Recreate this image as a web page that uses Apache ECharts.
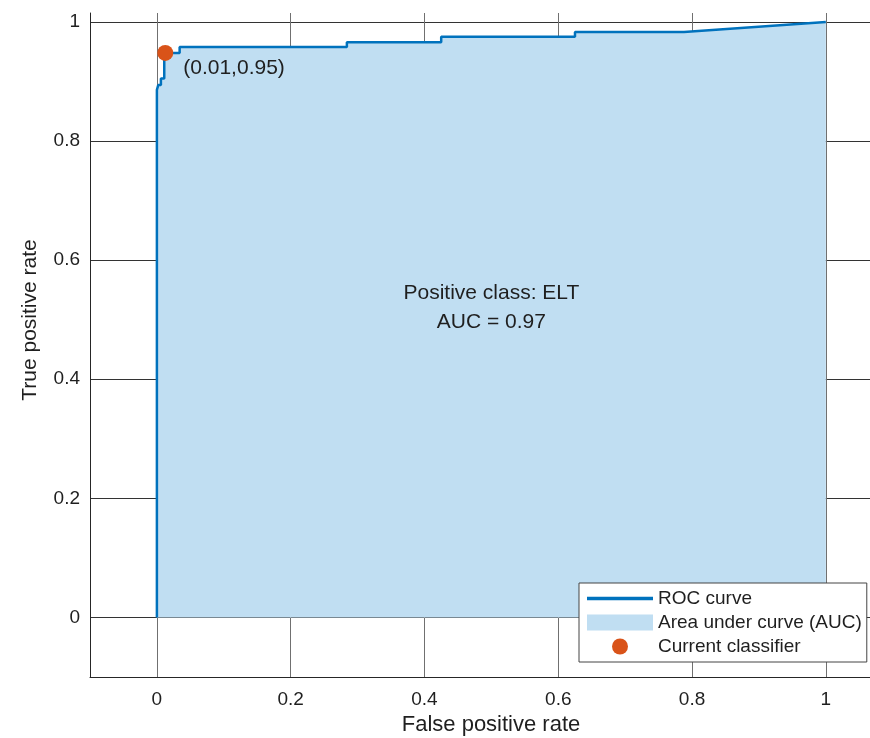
<!DOCTYPE html>
<html>
<head>
<meta charset="utf-8">
<script src="https://cdn.jsdelivr.net/npm/echarts@6/dist/echarts.min.js"></script>
<style>
html,body{margin:0;padding:0;background:#fff;}
#chart{width:870px;height:738px;}
</style>
</head>
<body>
<div id="chart"></div>
<script>
// ROC curve points (false positive rate, true positive rate)
const fpr = [0, 0, 0.002, 0.002, 0.006, 0.006, 0.011, 0.011, 0.034, 0.034, 0.284, 0.284, 0.425, 0.425, 0.625, 0.625, 0.788, 1.0];
const tpr = [0, 0.886, 0.886, 0.894, 0.894, 0.905, 0.905, 0.948, 0.948, 0.958, 0.958, 0.966, 0.966, 0.975, 0.975, 0.983, 0.983, 1.0];
// Current classifier operating point
const classifierPoint = [0.0125, 0.948];
const classifierLabel = '(0.01,0.95)';
// Annotation
const annotationPos = [0.5, 0.52];
const annotationText = 'Positive class: ELT\nAUC = 0.97';
// Ticks
const xTicks = [0, 0.2, 0.4, 0.6, 0.8, 1];
const yTicks = [0, 0.2, 0.4, 0.6, 0.8, 1];
// Names
const seriesNames = ['ROC curve', 'Area under curve (AUC)', 'Current classifier'];
const xName = 'False positive rate';
const yName = 'True positive rate';

const FONT = "'Liberation Sans', Arial, Helvetica, sans-serif";
const TXT = '#1f1f1f';

const rocData = fpr.map((x, i) => [x, tpr[i]]);

const chart = echarts.init(document.getElementById('chart'), null, {renderer: 'canvas'});
chart.setOption({
  animation: false,
  backgroundColor: '#fff',
  textStyle: {fontFamily: FONT},
  grid: {left: 90, top: 13, width: 780, height: 664, containLabel: false},
  xAxis: {
    type: 'value', min: -0.1, max: 1.066,
    axisLine: {show: true, onZero: false, lineStyle: {color: '#262626', width: 1}},
    axisTick: {show: false, customValues: xTicks},
    axisLabel: {customValues: xTicks, color: TXT, fontSize: 19, fontFamily: FONT, margin: 13},
    splitLine: {show: true, lineStyle: {color: '#707070', width: 1}}
  },
  yAxis: {
    type: 'value', min: -0.1, max: 1.015,
    axisLine: {show: true, onZero: false, lineStyle: {color: '#262626', width: 1}},
    axisTick: {show: false, customValues: yTicks},
    axisLabel: {customValues: yTicks, color: TXT, fontSize: 19, fontFamily: FONT, margin: 10},
    splitLine: {show: true, lineStyle: {color: '#333333', width: 1}}
  },
  legend: {
    orient: 'vertical', left: 579, top: 583,
    data: [
      {name: seriesNames[0], icon: 'path://M0,0H66V3.5H0Z'},
      {name: seriesNames[1], icon: 'rect'},
      {name: seriesNames[2], icon: 'circle'}
    ],
    itemWidth: 66, itemHeight: 16, itemGap: 5,
    padding: [6, 5, 6, 8],
    symbolKeepAspect: true,
    selectedMode: false,
    backgroundColor: '#fff', borderColor: '#444', borderWidth: 1, borderRadius: 0,
    textStyle: {color: TXT, fontSize: 19, fontFamily: FONT}
  },
  graphic: [
    {type: 'text', x: 491, y: 725, style: {text: xName, font: "22px 'Liberation Sans', Arial, sans-serif", fill: TXT, textAlign: 'center', textVerticalAlign: 'middle'}},
    {type: 'text', x: 30, y: 320, rotation: Math.PI / 2, style: {text: yName, font: "21px 'Liberation Sans', Arial, sans-serif", fill: TXT, textAlign: 'center', textVerticalAlign: 'middle'}}
  ],
  series: [
    {
      name: seriesNames[1], type: 'line', data: rocData, symbol: 'none', color: '#C0DEF2',
      lineStyle: {width: 0, opacity: 0},
      areaStyle: {color: '#C0DEF2', opacity: 1},
      z: 1, silent: true
    },
    {
      name: seriesNames[0], type: 'line', data: rocData, symbol: 'none', color: '#0072BD',
      lineStyle: {width: 2.5, color: '#0072BD'},
      z: 3, silent: true
    },
    {
      name: seriesNames[2], type: 'scatter', data: [classifierPoint], symbol: 'circle', symbolSize: 16,
      color: '#D95319', itemStyle: {color: '#D95319', opacity: 1},
      label: {show: true, position: 'right', offset: [5, 15], formatter: classifierLabel, color: TXT, opacity: 1, fontSize: 21, fontFamily: FONT},
      z: 5, silent: true
    },
    {
      name: 'annotation', type: 'scatter', data: [annotationPos], symbolSize: 0,
      itemStyle: {opacity: 1},
      label: {show: true, position: 'inside', formatter: annotationText, color: TXT, opacity: 1, fontSize: 21, lineHeight: 29, fontFamily: FONT, align: 'center'},
      z: 4, silent: true
    }
  ]
});
</script>
</body>
</html>
